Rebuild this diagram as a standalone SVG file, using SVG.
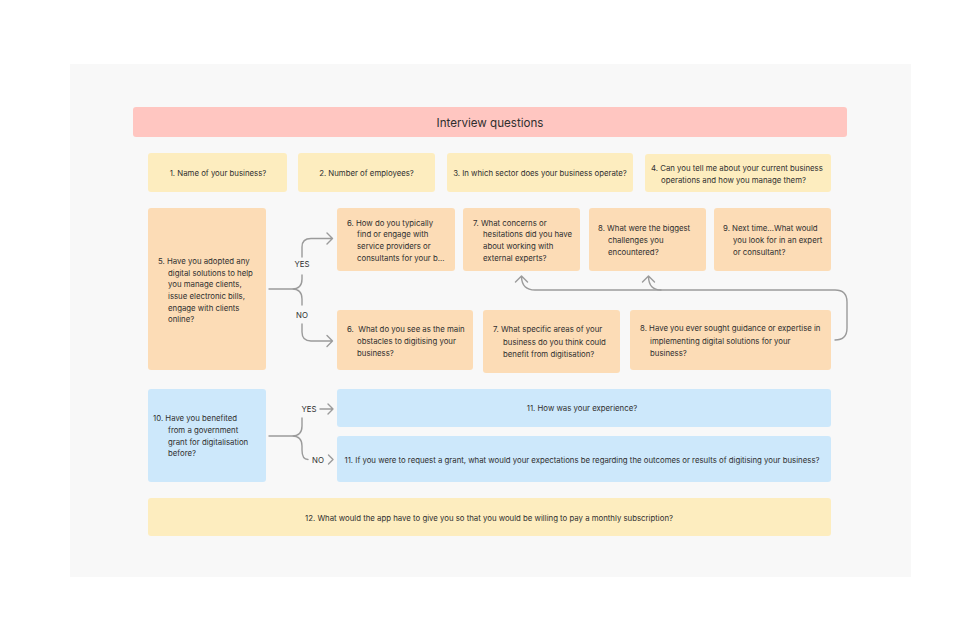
<svg xmlns="http://www.w3.org/2000/svg" width="980" height="644" viewBox="0 0 980 644">
<style>
text{font-family:Inter,"Liberation Sans",Arial,sans-serif;font-size:7.8px;fill:#2f2f2f}
.t{font-size:11.6px}
.c{text-anchor:middle}
.y{fill:#fdedbf}.o{fill:#fcdcb6}.b{fill:#cde8fb}.p{fill:#ffc6c1}
.ln{fill:none;stroke:#9b9b9b;stroke-width:1.4;stroke-linecap:round;stroke-linejoin:round}
</style>
<rect width="980" height="644" fill="#ffffff"/>
<rect x="70" y="64" width="841" height="513" fill="#f8f8f8"/>
<g id="title"><rect class="p" x="133" y="107" width="714" height="30" rx="3"/><text class="t c" x="490" y="126.5">Interview questions</text></g>
<g id="q1"><rect class="y" x="148" y="153" width="139" height="39" rx="3"/><text class="c" x="218" y="175.5">1. Name of your business?</text></g>
<g id="q2"><rect class="y" x="298" y="153" width="137" height="39" rx="3"/><text class="c" x="366.5" y="175.5">2. Number of employees?</text></g>
<g id="q3"><rect class="y" x="447" y="153" width="186" height="39" rx="3"/><text class="c" x="540" y="175.5">3. In which sector does your business operate?</text></g>
<g id="q4"><rect class="y" x="645" y="154" width="186" height="38" rx="3"/><text><tspan x="651" y="170.7">4. Can you tell me about your current business</tspan><tspan x="661" y="183">operations and how you manage them?</tspan></text></g>
<g id="q5"><rect class="o" x="148" y="208" width="118" height="162" rx="3"/><text><tspan x="158" y="264">5. Have you adopted any</tspan><tspan x="168" y="275.7">digital solutions to help</tspan><tspan x="168" y="287.3">you manage clients,</tspan><tspan x="168" y="299">issue electronic bills,</tspan><tspan x="168" y="310.7">engage with clients</tspan><tspan x="168" y="322.3">online?</tspan></text></g>
<g id="q6a"><rect class="o" x="337" y="208" width="118" height="63" rx="3"/><text><tspan x="347" y="225.7">6. How do you typically</tspan><tspan x="357" y="237.3">find or engage with</tspan><tspan x="357" y="249">service providers or</tspan><tspan x="357" y="260.7">consultants for your b...</tspan></text></g>
<g id="q7a"><rect class="o" x="463" y="208" width="117" height="63" rx="3"/><text><tspan x="473" y="225.7">7. What concerns or</tspan><tspan x="483" y="237.3">hesitations did you have</tspan><tspan x="483" y="249">about working with</tspan><tspan x="483" y="260.7">external experts?</tspan></text></g>
<g id="q8a"><rect class="o" x="589" y="208" width="117" height="63" rx="3"/><text><tspan x="598" y="231.3">8. What were the biggest</tspan><tspan x="608" y="243">challenges you</tspan><tspan x="608" y="254.7">encountered?</tspan></text></g>
<g id="q9"><rect class="o" x="714" y="208" width="117" height="63" rx="3"/><text><tspan x="723" y="231.3">9. Next time...What would</tspan><tspan x="733" y="243">you look for in an expert</tspan><tspan x="733" y="254.7">or consultant?</tspan></text></g>
<g id="q6b"><rect class="o" x="337" y="310" width="136" height="60" rx="3"/><text><tspan x="347" y="332.3" xml:space="preserve">6.  What do you see as the main</tspan><tspan x="357" y="344">obstacles to digitising your</tspan><tspan x="357" y="355.7">business?</tspan></text></g>
<g id="q7b"><rect class="o" x="483" y="310" width="137" height="63" rx="3"/><text><tspan x="493" y="332.3">7. What specific areas of your</tspan><tspan x="503" y="344.7">business do you think could</tspan><tspan x="503" y="357">benefit from digitisation?</tspan></text></g>
<g id="q8b"><rect class="o" x="630" y="310" width="201" height="60" rx="3"/><text><tspan x="640" y="331.3">8. Have you ever sought guidance or expertise in</tspan><tspan x="650" y="343.7">implementing digital solutions for your</tspan><tspan x="650" y="355.7">business?</tspan></text></g>
<g id="q10"><rect class="b" x="148" y="389" width="118" height="93" rx="3"/><text><tspan x="153" y="421.3">10. Have you benefited</tspan><tspan x="168" y="433">from a government</tspan><tspan x="168" y="444.7">grant for digitalisation</tspan><tspan x="168" y="456.3">before?</tspan></text></g>
<g id="q11a"><rect class="b" x="337" y="389" width="494" height="38" rx="3"/><text class="c" x="582" y="411.3">11. How was your experience?</text></g>
<g id="q11b"><rect class="b" x="337" y="436" width="494" height="46" rx="3"/><text class="c" x="582" y="463">11. If you were to request a grant, what would your expectations be regarding the outcomes or results of digitising your business?</text></g>
<g id="q12"><rect class="y" x="148" y="498" width="683" height="38" rx="3"/><text class="c" x="489" y="520.7">12. What would the app have to give you so that you would be willing to pay a monthly subscription?</text></g>
<g id="connectors">
<path class="ln" d="M269 289 H292 Q302 289 302 279 V275 M292 289 Q302 289 302 299 V305"/>
<path class="ln" d="M302 257 V247 Q302 238.5 311 238.5 H332.5 M327 233 L332.5 238.5 L327 244"/>
<path class="ln" d="M302 324 V332 Q302 341 311 341 H332.5 M327 335.5 L332.5 341 L327 346.5"/>
<path class="ln" d="M835 340 Q847 340 847 328 V302 Q847 290 835 290 H535 Q522 290 521.5 277 M515.5 282 L521.5 276 L527.5 282"/>
<path class="ln" d="M661 290 Q649 290 648.5 277 M642.5 282 L648.5 276 L654.5 282"/>
<path class="ln" d="M269 436 H292 Q302 436 302 426 V418 M292 436 Q302 436 302 446 V450 Q302 459.5 308 459.5"/>
<path class="ln" d="M320 409 H333 M328 404 L333 409 L328 414"/>
<path class="ln" d="M328.5 455 L333 459.5 L328.5 464"/>
<text class="c" x="302" y="267.3">YES</text>
<text class="c" x="302" y="318">NO</text>
<text class="c" x="309" y="412">YES</text>
<text class="c" x="318" y="462.5">NO</text>
</g>
</svg>
